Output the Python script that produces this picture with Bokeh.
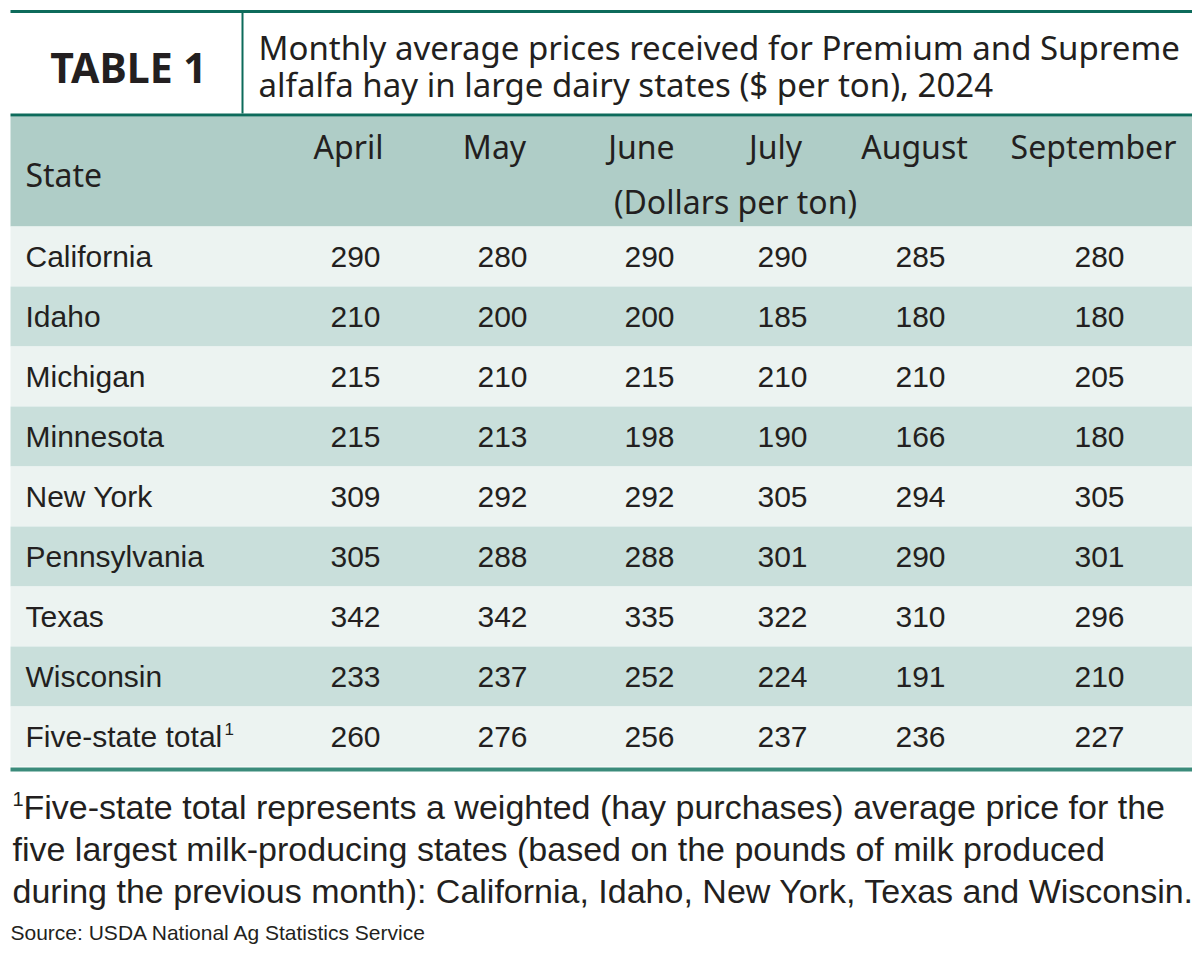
from bokeh.plotting import figure
from bokeh.models import Range1d, ColumnDataSource
from bokeh.core.properties import value
from bokeh.embed import file_html
from bokeh.resources import INLINE

# ---- data ----
states = ["California", "Idaho", "Michigan", "Minnesota", "New York",
          "Pennsylvania", "Texas", "Wisconsin", "Five-state total"]
months = ["April", "May", "June", "July", "August", "September"]
april = [290, 210, 215, 215, 309, 305, 342, 233, 260]
may = [280, 200, 210, 213, 292, 288, 342, 237, 276]
june = [290, 200, 215, 198, 292, 288, 335, 252, 256]
july = [290, 185, 210, 190, 305, 301, 322, 224, 237]
august = [285, 180, 210, 166, 294, 290, 310, 191, 236]
september = [280, 180, 205, 180, 305, 301, 296, 210, 227]
series = [april, may, june, july, august, september]

title_tag = "TABLE 1"
title_lines = ["Monthly average prices received for Premium and Supreme",
               "alfalfa hay in large dairy states ($ per ton), 2024"]
unit_label = "(Dollars per ton)"
footnote_lines = ["Five-state total represents a weighted (hay purchases) average price for the",
                  "five largest milk-producing states (based on the pounds of milk produced",
                  "during the previous month): California, Idaho, New York, Texas and Wisconsin."]
source_text = "Source: USDA National Ag Statistics Service"

# ---- layout (styling) ----
W, H = 1192, 951
DARK = "#0d6b5b"
HEAD_BG = "#afcdc7"
LIGHT = "#ecf3f1"
MID = "#c9dfdb"
BOTTOM = "#3b8b7b"
TXT = "#231f20"
HEAD_FONT = value("Noto Sans")
BODY_FONT = value("Liberation Sans")

L, R = 10, 1196
row_top0 = 226
row_h = 60
col_num_x = [355, 502, 649, 782, 920, 1099]
col_head_x = [348, 494, 641, 775, 914, 1093]

p = figure(width=W, height=H, x_range=Range1d(0, W), y_range=Range1d(H, 0),
           output_backend="svg", toolbar_location=None, min_border=0)
p.axis.visible = False
p.grid.visible = False
p.outline_line_color = None
p.background_fill_color = "white"
p.border_fill_color = "white"

# header band
p.quad(left=[L], right=[R], top=[116], bottom=[226], fill_color=HEAD_BG, line_color=None)

# rows
n = len(states)
tops = [row_top0 + i * row_h for i in range(n)]
bots = [t + row_h for t in tops]
cols = [LIGHT if i % 2 == 0 else MID for i in range(n)]
p.quad(left=[L] * n, right=[R] * n, top=tops, bottom=bots, fill_color=cols, line_color=None)

# rules
p.quad(left=[L], right=[R], top=[9.5], bottom=[12.5], fill_color=DARK, line_color=None)
p.quad(left=[L], right=[R], top=[113], bottom=[116], fill_color=DARK, line_color=None)
p.quad(left=[241], right=[243], top=[12], bottom=[113], fill_color=DARK, line_color=None)
p.quad(left=[L], right=[R], top=[767], bottom=[771], fill_color=BOTTOM, line_color=None)

# title
p.text(x=[128], y=[66], text=[title_tag], text_font=HEAD_FONT, text_font_style="bold",
       text_font_size="41px", text_align="center", text_baseline="middle", text_color=TXT)
p.text(x=[258, 258], y=[47, 84], text=title_lines, text_font=HEAD_FONT,
       text_font_size="33px", text_align="left", text_baseline="middle", text_color=TXT)

# header
p.text(x=[25], y=[174], text=["State"], text_font=HEAD_FONT, text_font_size="32px",
       text_align="left", text_baseline="middle", text_color=TXT)
p.text(x=col_head_x, y=[146] * len(months), text=months, text_font=HEAD_FONT,
       text_font_size="32px", text_align="center", text_baseline="middle", text_color=TXT)
p.text(x=[735], y=[201], text=[unit_label], text_font=HEAD_FONT, text_font_size="32px",
       text_align="center", text_baseline="middle", text_color=TXT)

# body
centers = [t + row_h / 2 for t in tops]
p.text(x=[25] * n, y=centers, text=states, text_font=BODY_FONT, text_font_size="30px",
       text_align="left", text_baseline="middle", text_color=TXT)
p.text(x=[224], y=[centers[-1] - 8], text=["1"], text_font=BODY_FONT, text_font_size="17px",
       text_align="left", text_baseline="middle", text_color=TXT)
for cx, vals in zip(col_num_x, series):
    src = ColumnDataSource(dict(x=[cx] * n, y=centers, t=[str(v) for v in vals]))
    p.text(x="x", y="y", text="t", source=src, text_font=BODY_FONT, text_font_size="30px",
           text_align="center", text_baseline="middle", text_color=TXT)

# footnote
p.text(x=[12], y=[798], text=["1"], text_font=BODY_FONT, text_font_size="20px",
       text_align="left", text_baseline="middle", text_color=TXT)
p.text(x=[23, 12, 12], y=[806, 848, 890], text=footnote_lines, text_font=BODY_FONT,
       text_font_size="34px", text_align="left", text_baseline="middle", text_color=TXT)
p.text(x=[10], y=[932], text=[source_text], text_font=BODY_FONT, text_font_size="21px",
       text_align="left", text_baseline="middle", text_color=TXT)

open("out.html", "w").write(file_html(p, INLINE))
